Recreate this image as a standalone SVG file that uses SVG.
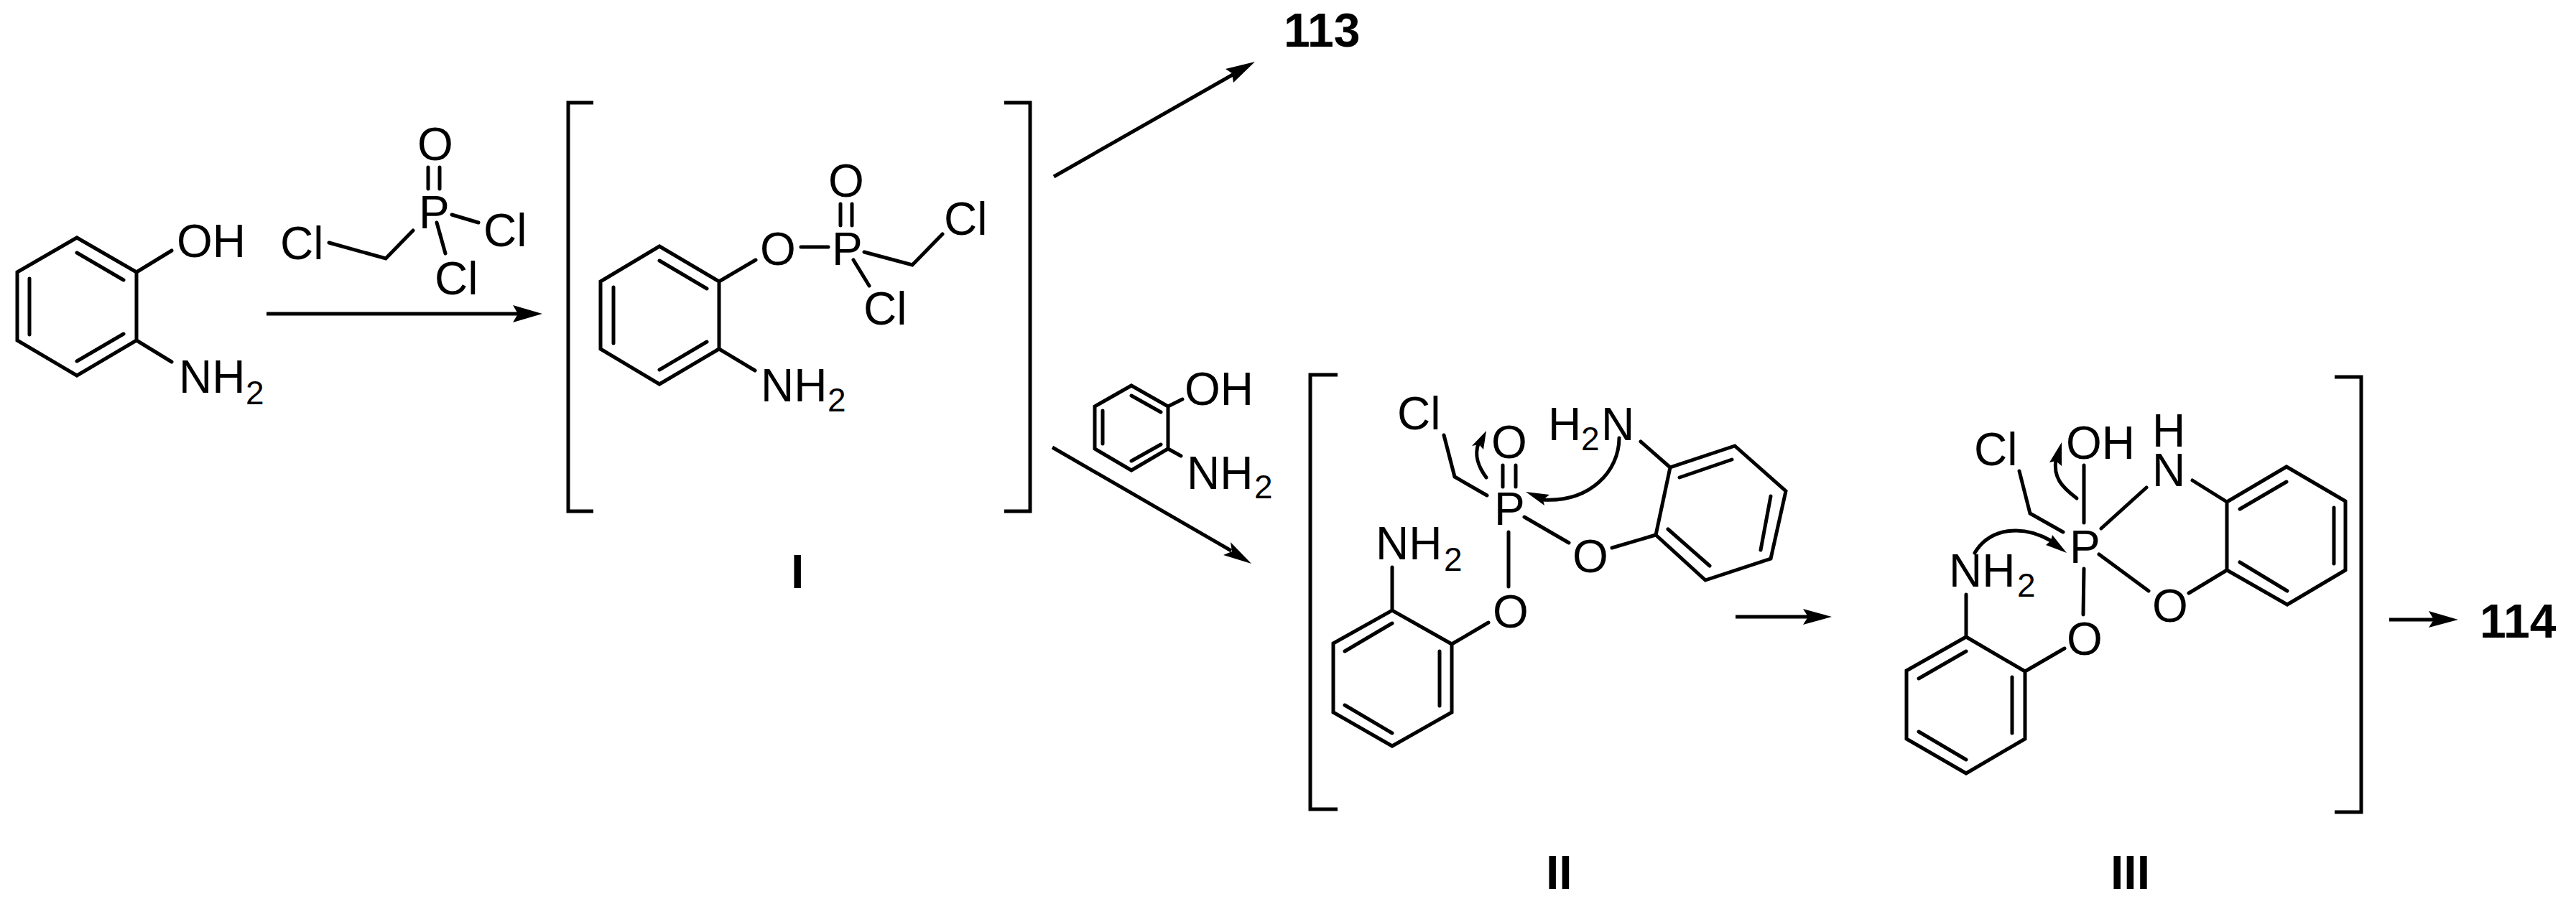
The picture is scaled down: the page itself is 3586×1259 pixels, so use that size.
<svg xmlns="http://www.w3.org/2000/svg" width="3586" height="1259" viewBox="0 0 3586 1259">
<style>
.b{fill:none;stroke:#000;stroke-width:5;stroke-linecap:round;stroke-linejoin:miter}
.br{fill:none;stroke:#000;stroke-width:5;stroke-linejoin:miter}
.a{fill:none;stroke:#000;stroke-width:5}
.h{fill:#000;stroke:none}
text{font-family:"Liberation Sans",Arial,sans-serif;font-size:64px;fill:#000}
.s{font-size:46px}
.l{font-weight:bold;font-size:66px}
</style>
<rect width="3586" height="1259" fill="#fff"/>
<g id="aminophenol">
<path class="b" d="M107,331L190,379V474L107,523L24,474V379ZM107,352L172,390M41,388V466M107,503L172,465M190,379L239,349M190,474L239,504"/>
<text x="246" y="358">OH</text>
<text x="249" y="547">NH<tspan class="s" x="342" y="563">2</tspan></text>
</g>
<g id="reagent">
<path class="b" d="M596,233V263M612,233V263M458,338L537,360L575,321M629,299L666,310M608,310L620,353"/>
<text x="581" y="223">O</text>
<text x="583" y="318">P</text>
<text x="390" y="361">Cl</text>
<text x="673" y="343">Cl</text>
<text x="605" y="410">Cl</text>
</g>
<g id="intermediate-I">
<path class="br" d="M826,143H791V712H826M1398,143H1434V712H1398"/>
<path class="b" d="M918,343L1001,392V486L918,535L836,486V392ZM918,363L984,402M854,400V478M918,515L984,476M1001,392L1052,362M1001,486L1051,516M1115,344H1153M1170,284V314M1186,284V314M1203,351L1270,369L1312,326M1188,362L1210,398"/>
<text x="1058" y="369">O</text>
<text x="1158" y="369">P</text>
<text x="1153" y="274">O</text>
<text x="1314" y="327">Cl</text>
<text x="1202" y="452">Cl</text>
<text x="1059" y="559">NH<tspan class="s" x="1152" y="573">2</tspan></text>
<text class="l" x="1101" y="819">I</text>
</g>
<g id="product-113"><text class="l" x="1787" y="65">113</text></g>
<g id="reagent-aminophenol">
<path class="b" d="M1575,537L1626,566V625L1575,655L1524,625V566ZM1575,551L1616,574M1535,572V618M1575,642L1616,619M1626,566L1646,556M1626,625L1644,635"/>
<text x="1649" y="564">OH</text>
<text x="1652" y="681">NH<tspan class="s" x="1746" y="694">2</tspan></text>
</g>
<g id="intermediate-II">
<path class="br" d="M1862,522H1824V1127H1862"/>
<path class="b" d="M2010,606L2025,664L2070,690M2092,648V678M2110,648V678M2122,720L2184,756M2244,763L2305,745L2325,651L2415,621L2486,684L2465,778L2374,808L2305,745M2338,665L2411,640M2465,691L2451,766M2380,788L2322,737M2325,651L2284,615M2100,741V817M2072,867L2021,897L1938,850L1856,896V992L1938,1039L2021,992V897M1938,868L1872,907M2004,907V983M1872,982L1938,1021M1938,850V790"/>
<text x="1945" y="598">Cl</text>
<text x="2076" y="638">O</text>
<text x="2080" y="731">P</text>
<text x="2189" y="797">O</text>
<text x="2078" y="874">O</text>
<text x="2155" y="613">H<tspan class="s" x="2201" y="627">2</tspan><tspan x="2229" y="613">N</tspan></text>
<text x="1915" y="779">NH<tspan class="s" x="2010" y="795">2</tspan></text>
<text class="l" x="2152" y="1238">II</text>
</g>
<g id="intermediate-III">
<path class="br" d="M3250,525H3287V1131H3250"/>
<path class="b" d="M2811,656L2826,715L2872,741M2901,648V728M2925,736L2988,679M3052,669L3100,699M3100,699L3183,650L3265,698V794L3184,842L3100,794ZM3118,709L3183,671M3249,707V785M3118,783L3184,823M2922,772L2991,823M3047,826L3100,794M2901,792L2900,856M2874,903L2819,935L2737,887L2654,934V1029L2737,1077L2819,1029V935M2737,907L2671,945M2801,943V1021M2671,1019L2737,1058M2737,887V828"/>
<text x="2748" y="648">Cl</text>
<text x="2876" y="639">OH</text>
<text x="2881" y="784">P</text>
<text><tspan x="2996" y="622">H</tspan><tspan x="2996" y="677">N</tspan></text>
<text x="2996" y="866">O</text>
<text x="2877" y="912">O</text>
<text x="2713" y="817">NH<tspan class="s" x="2808" y="831">2</tspan></text>
<text class="l" x="2938" y="1238">III</text>
</g>
<g id="product-114"><text class="l" x="3452" y="888">114</text></g>
<g id="connectors">
<path class="a" d="M371,437H722"/><polygon class="h" points="755,437 714,425 721,437 714,449"/>
<path class="a" d="M1467,246L1716,104"/><polygon class="h" points="1747,86 1706,96 1715,102 1717,115"/>
<path class="a" d="M1465,623L1714,767"/><polygon class="h" points="1742,785 1713,755 1715,768 1703,773"/>
<path class="a" d="M2416,859H2518"/><polygon class="h" points="2550,859 2510,848 2517,859 2510,870"/>
<path class="a" d="M3326,863H3388"/><polygon class="h" points="3422,863 3381,851 3388,863 3381,874"/>
<path class="b" d="M2254,610C2254,655 2215,700 2147,696"/><polygon class="h" points="2124,685 2157,689 2148,696 2150,704"/>
<path class="b" d="M2069,665C2058,650 2052,635 2058,618"/><polygon class="h" points="2069,600 2065,626 2059,619 2049,621"/>
<path class="b" d="M2749,770C2770,735 2815,730 2855,753"/><polygon class="h" points="2877,770 2857,745 2855,753 2848,759"/>
<path class="b" d="M2891,694C2870,678 2858,665 2862,640"/><polygon class="h" points="2870,616 2870,649 2862,642 2853,644"/>
</g>
</svg>
